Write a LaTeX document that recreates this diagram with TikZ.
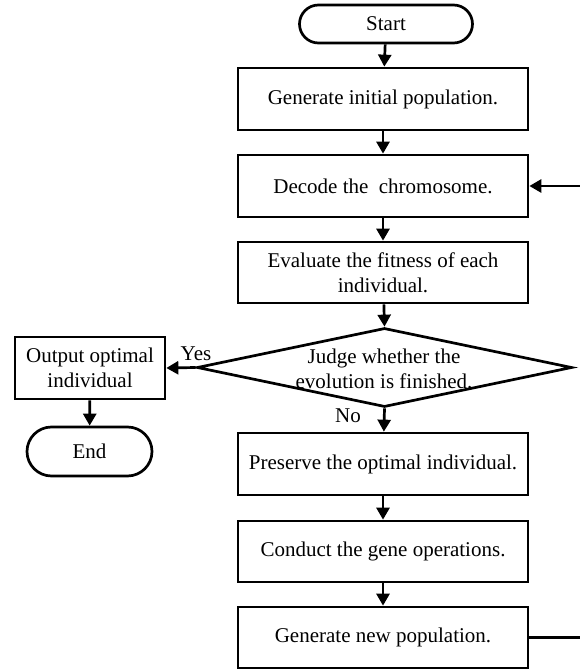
\documentclass[tikz,border=0pt]{standalone}
\usepackage{fontspec}
\setmainfont{Liberation Serif}
\usetikzlibrary{shapes.geometric,shapes.misc,arrows.meta}

\tikzset{
  base/.style={draw=black, line width=2.7pt, font=\fontsize{21}{25}\selectfont, align=center, inner sep=0pt},
  procbox/.style={base, rectangle, minimum width=290pt, minimum height=62pt},
  termbox/.style={base, rounded rectangle},
  decbox/.style={draw=black, line width=2.7pt, diamond, minimum width=375pt, minimum height=79pt, inner sep=0pt},
  lbl/.style={font=\fontsize{21}{25}\selectfont, inner sep=0pt},
  flow/.style={line width=2.7pt, -{Triangle[length=12pt,width=13pt]}},
}

\begin{document}
\begin{tikzpicture}[x=1pt,y=-1pt]
  \useasboundingbox[fill=white] (0,0) rectangle (580,669);

  % main column
  \node[termbox, minimum width=173pt, minimum height=38pt] (start) at (386,24) {Start};
  \node[procbox] (gen) at (383,99) {Generate initial population.};
  \node[procbox] (dec) at (383,186) {Decode the\ \ chromosome.};
  \node[procbox, minimum height=61pt] (eva) at (383,272.5) {Evaluate the fitness of each\\individual.};
  \node[decbox] (judge) at (384.5,367.5) {};
  \node[lbl, align=center] (judgetext) at (384,369) {Judge whether the\\evolution is finished.};
  \node[procbox] (pres) at (383,464) {Preserve the optimal individual.};
  \node[procbox, minimum height=61pt] (cond) at (383,551.5) {Conduct the gene operations.};
  \node[procbox, minimum height=61pt] (newp) at (383,637.5) {Generate new population.};

  % left branch
  \node[base, rectangle, minimum width=150pt, minimum height=62pt] (out) at (90,368) {Output optimal\\individual};
  \node[termbox, minimum width=125pt, minimum height=49pt] (end) at (89.5,451.5) {End};

  % branch labels
  \node[lbl] (yes) at (196,354) {Yes};
  \node[lbl] (no) at (348,416) {No};

  % connectors
  \draw[flow] (start) -- (gen);
  \draw[flow] (gen) -- (dec);
  \draw[flow] (dec) -- (eva);
  \draw[flow] (eva) -- (judge.north);
  \draw[flow] (judge.south) -- (pres);
  \draw[flow] (pres) -- (cond);
  \draw[flow] (cond) -- (newp);
  \draw[flow] (judge.west) -- (out.east);
  \draw[flow] (out) -- (end);

  % loop back from the new population to decoding
  \coordinate (loopx) at (583,0);
  \draw[flow] (newp.east) -- (newp.east -| loopx) -- (dec.east -| loopx) -- (dec.east);
\end{tikzpicture}
\end{document}
